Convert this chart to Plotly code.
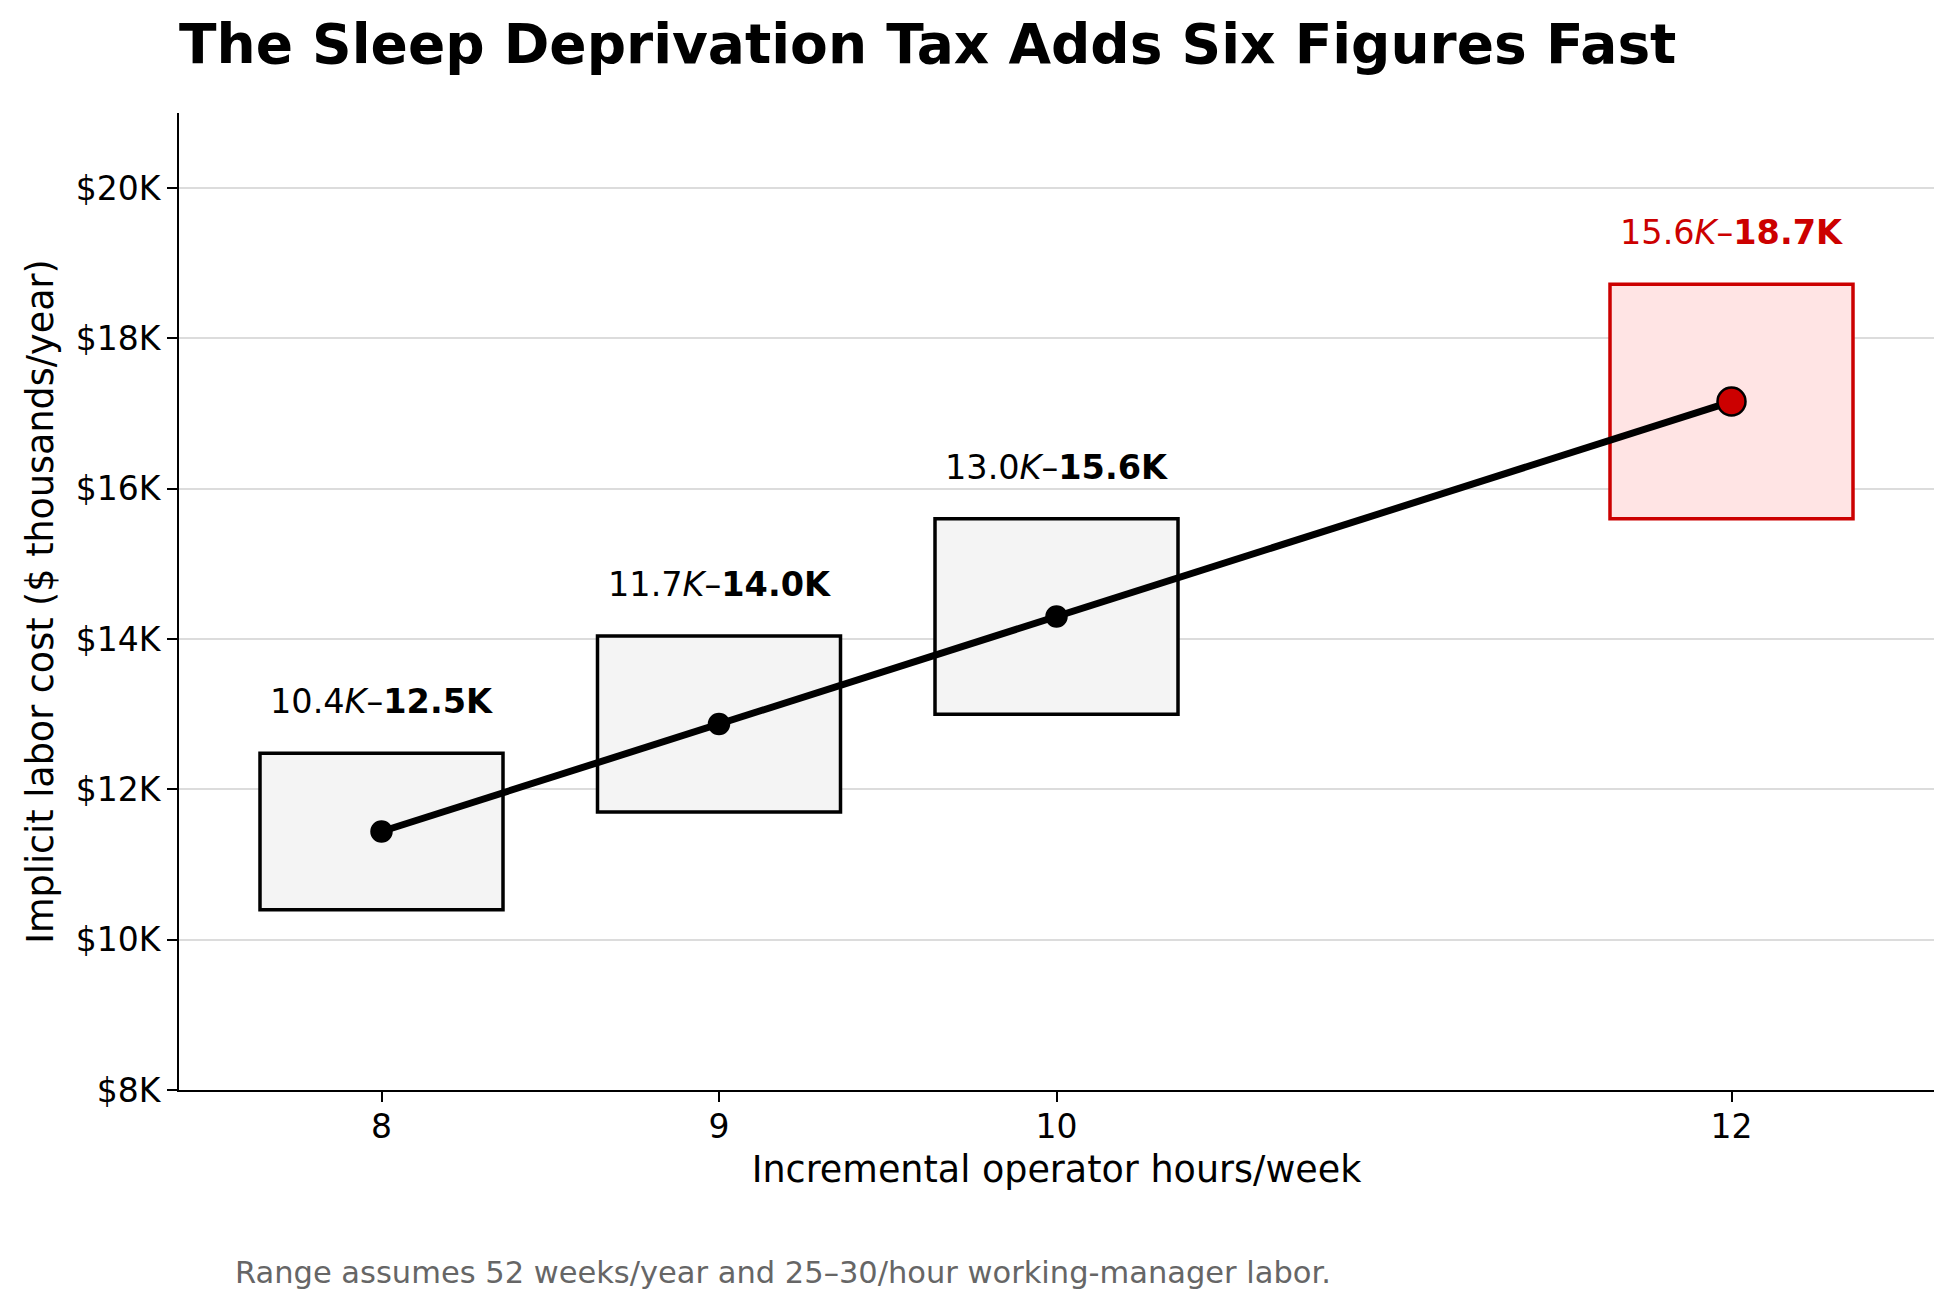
import plotly.graph_objects as go

# ---- data (values in $ thousands / year) ----
hours = [8, 9, 10, 12]
cost_low = [10.4, 11.7, 13.0, 15.6]
cost_high = [12.48, 14.04, 15.6, 18.72]
cost_mid = [11.44, 12.87, 14.3, 17.16]
highlight = [False, False, False, True]

y_ticks = [8, 10, 12, 14, 16, 18, 20]
y_tick_labels = ["$8K", "$10K", "$12K", "$14K", "$16K", "$18K", "$20K"]
x_ticks = [8, 9, 10, 12]

title_text = "The Sleep Deprivation Tax Adds Six Figures Fast"
x_title = "Incremental operator hours/week"
y_title = "Implicit labor cost ($ thousands/year)"
footnote = "Range assumes 52 weeks/year and 25–30/hour working-manager labor."

# ---- style ----
FONT = "DejaVu Sans"
RED = "#cc0000"
BOX_HALF = 0.36
W, H = 1955, 1312
OFF = 8  # page body margin
L, R, T, B = 171, 29, 105, 230

fig = go.Figure()

shapes = []
annotations = []
for h, lo, hi, hl in zip(hours, cost_low, cost_high, highlight):
    shapes.append(dict(
        type="rect", xref="x", yref="y",
        x0=h - BOX_HALF, x1=h + BOX_HALF, y0=lo, y1=hi,
        fillcolor="#ffe4e4" if hl else "#f4f4f4",
        line=dict(color=RED if hl else "black", width=3.5),
        layer="between",
    ))
    annotations.append(dict(
        x=h, y=hi, xref="x", yref="y",
        text=f"{lo:.1f}<i>K</i>–<b>{hi:.1f}K</b>",
        showarrow=False, xanchor="center", yanchor="bottom", yshift=30,
        font=dict(family=FONT, size=33.5, color=RED if hl else "black"),
    ))

fig.add_trace(go.Scatter(
    x=hours, y=cost_mid, mode="lines",
    line=dict(color="black", width=7),
    showlegend=False, hoverinfo="skip",
))
fig.add_trace(go.Scatter(
    x=hours, y=cost_mid, mode="markers",
    marker=dict(
        size=[28 if hl else 20 for hl in highlight],
        color=[RED if hl else "black" for hl in highlight],
        opacity=1,
        line=dict(color="black", width=2.5),
    ),
    showlegend=False, hoverinfo="skip",
))

plot_w = W - L - R
plot_h = H - T - B
annotations.append(dict(
    x=(233 - (L + OFF)) / plot_w, y=((H - B + OFF) - 1272) / plot_h,
    xref="paper", yref="paper",
    text=footnote, showarrow=False, xanchor="left", yanchor="middle",
    font=dict(family=FONT, size=30.5, color="#666666"),
))

fig.update_layout(
    width=W, height=H,
    margin=dict(l=L, r=R, t=T, b=B),
    paper_bgcolor="white", plot_bgcolor="white",
    font=dict(family=FONT, size=33, color="black"),
    title=dict(
        text=f"<b>{title_text}</b>",
        x=(179 - OFF) / W, xanchor="left", xref="container",
        y=1 - (44 - OFF) / H, yanchor="middle", yref="container",
        font=dict(family=FONT, size=55, color="black"),
    ),
    shapes=shapes,
    annotations=annotations,
    showlegend=False,
)

fig.update_xaxes(
    range=[7.4, 12.6], tickvals=x_ticks, ticktext=[str(t) for t in x_ticks],
    showgrid=False, zeroline=False,
    showline=True, linecolor="black", linewidth=2,
    ticks="outside", ticklen=10, tickwidth=2, tickcolor="black",
    ticklabelstandoff=-4,
    tickfont=dict(family=FONT, size=33, color="black"),
    title=dict(text=x_title, font=dict(family=FONT, size=36.5, color="black"), standoff=12),
)
fig.update_yaxes(
    range=[8, 21], tickvals=y_ticks, ticktext=y_tick_labels,
    showgrid=True, gridcolor="#dcdcdc", gridwidth=1.6, zeroline=False,
    showline=True, linecolor="black", linewidth=2,
    ticks="outside", ticklen=10, tickwidth=2, tickcolor="black",
    tickfont=dict(family=FONT, size=33, color="black"),
    title=dict(text=y_title, font=dict(family=FONT, size=36.5, color="black"), standoff=11),
)

fig.write_html("out.html")
